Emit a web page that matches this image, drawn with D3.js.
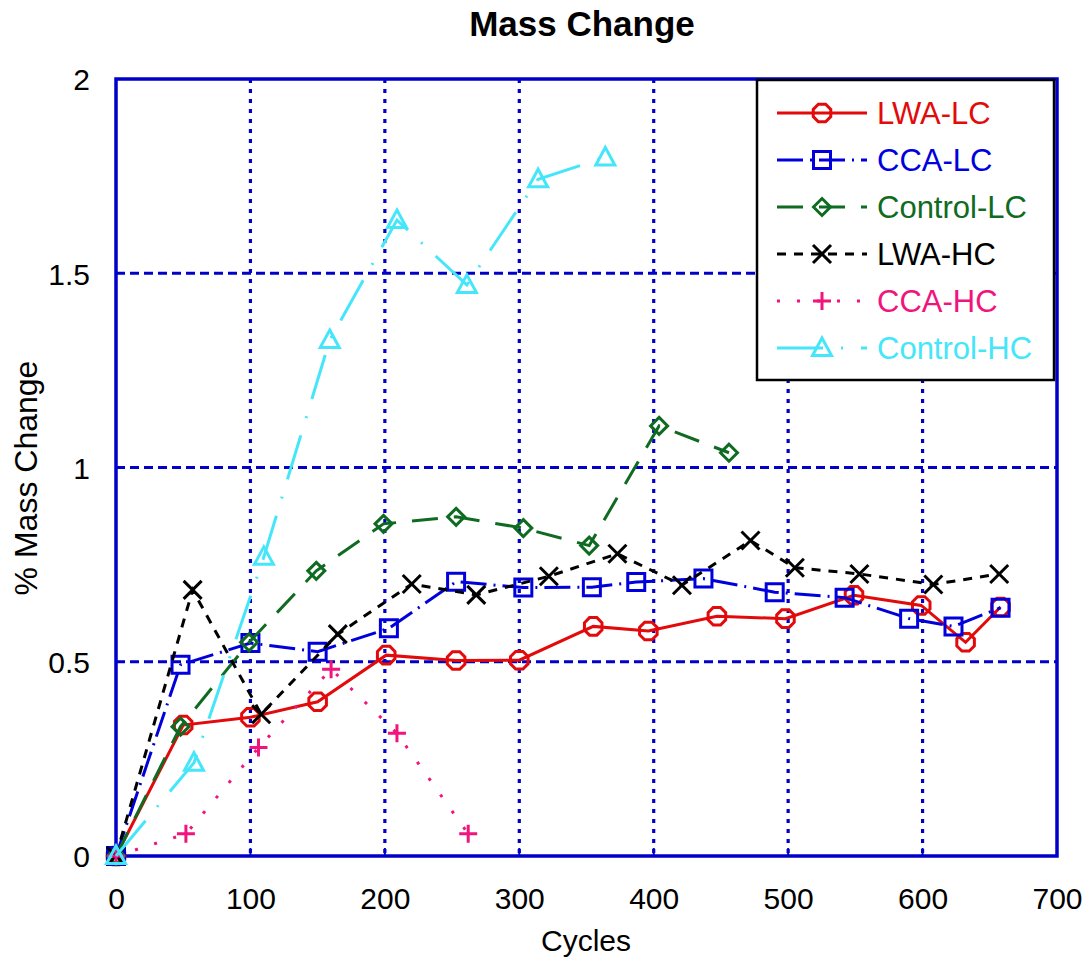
<!DOCTYPE html>
<html>
<head>
<meta charset="utf-8">
<script src="https://cdn.jsdelivr.net/npm/d3@7"></script>
<style>
  body { margin: 0; background: #fff; }
  svg { display: block; font-family: "Liberation Sans", Arial, sans-serif; }
</style>
</head>
<body>
<div id="chart"></div>
<script>
// series values
const seriesNames = ["LWA-LC", "CCA-LC", "Control-LC", "LWA-HC", "CCA-HC", "Control-HC"];

const lwaLcCycles = [0, 50, 100, 150, 201, 253, 300, 355, 396, 447, 498, 549, 599, 632, 658];
const lwaLcValues = [0, 0.337, 0.357, 0.397, 0.517, 0.503, 0.504, 0.591, 0.579, 0.617, 0.611, 0.671, 0.645, 0.55, 0.641];

const ccaLcCycles = [0, 48, 100, 150, 203, 253, 303, 354, 387, 437, 490, 542, 590, 623, 658];
const ccaLcValues = [0, 0.492, 0.548, 0.526, 0.586, 0.706, 0.691, 0.692, 0.705, 0.714, 0.679, 0.665, 0.611, 0.591, 0.639];

const controlLcCycles = [0, 48, 99, 149, 199, 253, 303, 352, 404, 456];
const controlLcValues = [0, 0.333, 0.55, 0.734, 0.855, 0.873, 0.844, 0.799, 1.107, 1.038];

const lwaHcCycles = [0, 57, 108, 165, 220, 268, 322, 373, 421, 472, 505, 553, 608, 657];
const lwaHcValues = [0, 0.685, 0.365, 0.571, 0.70, 0.672, 0.72, 0.778, 0.697, 0.812, 0.742, 0.726, 0.699, 0.726];

const ccaHcCycles = [0, 52, 106, 160, 209, 262];
const ccaHcValues = [0, 0.057, 0.279, 0.481, 0.316, 0.057];

const controlHcCycles = [0, 58, 110, 159, 209, 261, 314, 364];
const controlHcValues = [0, 0.24, 0.77, 1.328, 1.637, 1.47, 1.742, 1.798];

const xTicks = [0, 100, 200, 300, 400, 500, 600, 700];
const yTicks = [0, 0.5, 1, 1.5, 2];

const width = 1082, height = 958;
const plot = { left: 116, right: 1057, top: 79, bottom: 856 };

const x = d3.scaleLinear().domain([0, 700]).range([plot.left, plot.right]);
const y = d3.scaleLinear().domain([0, 2]).range([plot.bottom, plot.top]);

const gridBlue = "#0000c8";

// marker paths, centred on 0,0
const markerPath = {
    octagon: function (r) {
        const pts = d3.range(8).map(i => {
            const a = Math.PI / 8 + i * Math.PI / 4;
            return [r * Math.cos(a), r * Math.sin(a)];
        });
        return "M" + pts.map(p => p.join(",")).join("L") + "Z";
    },
    square: r => `M${-r},${-r}H${r}V${r}H${-r}Z`,
    diamond: r => `M0,${-r}L${r},0L0,${r}L${-r},0Z`,
    cross: r => `M${-r},${-r}L${r},${r}M${-r},${r}L${r},${-r}`,
    plus: r => `M${-r},0H${r}M0,${-r}V${r}`,
    triangle: r => `M0,${-r}L${r * 0.95},${r * 0.75}L${-r * 0.95},${r * 0.75}Z`
};

const series = [
    { name: seriesNames[0], xs: lwaLcCycles, ys: lwaLcValues, color: "#e20a0a", dash: null, marker: "octagon", size: 9.5 },
    { name: seriesNames[1], xs: ccaLcCycles, ys: ccaLcValues, color: "#0000dc", dash: "26,7,2,7", marker: "square", size: 8.5 },
    { name: seriesNames[2], xs: controlLcCycles, ys: controlLcValues, color: "#0f6b22", dash: "26,16", marker: "diamond", size: 8.5 },
    { name: seriesNames[3], xs: lwaHcCycles, ys: lwaHcValues, color: "#000000", dash: "9,8", marker: "cross", size: 9 },
    { name: seriesNames[4], xs: ccaHcCycles, ys: ccaHcValues, color: "#f0147c", dash: "3,17", marker: "plus", size: 9 },
    { name: seriesNames[5], xs: controlHcCycles, ys: controlHcValues, color: "#45e6fa", dash: "46,18,2,18", marker: "triangle", size: 10 }
];

const svg = d3.select("#chart").append("svg")
    .attr("width", width)
    .attr("height", height);

svg.append("rect").attr("width", width).attr("height", height).attr("fill", "#fff");

// grid
const grid = svg.append("g").attr("class", "grid");
grid.selectAll("line.v").data(xTicks.slice(1, -1)).join("line")
    .attr("class", "v")
    .attr("x1", d => x(d)).attr("x2", d => x(d))
    .attr("y1", plot.top).attr("y2", plot.bottom)
    .attr("stroke", gridBlue).attr("stroke-width", 3.2)
    .attr("stroke-dasharray", "4,6");
grid.selectAll("line.h").data(yTicks.slice(1, -1)).join("line")
    .attr("class", "h")
    .attr("x1", plot.left).attr("x2", plot.right)
    .attr("y1", d => y(d)).attr("y2", d => y(d))
    .attr("stroke", gridBlue).attr("stroke-width", 3.2)
    .attr("stroke-dasharray", "9,5");

// frame
svg.append("rect")
    .attr("x", plot.left).attr("y", plot.top)
    .attr("width", plot.right - plot.left).attr("height", plot.bottom - plot.top)
    .attr("fill", "none").attr("stroke", gridBlue).attr("stroke-width", 3.5);

// axes via d3
const xAxis = svg.append("g")
    .attr("transform", `translate(0,${plot.bottom})`)
    .call(d3.axisBottom(x).tickValues(xTicks).tickSize(0).tickPadding(32).tickFormat(d3.format("d")));
const yAxis = svg.append("g")
    .attr("transform", `translate(${plot.left},0)`)
    .call(d3.axisLeft(y).tickValues(yTicks).tickSize(0).tickPadding(26).tickFormat(d => String(d)));
[xAxis, yAxis].forEach(a => {
    a.select(".domain").remove();
    a.selectAll("text")
        .attr("fill", "#000")
        .style("font-size", "30px")
        .style("font-family", "'Liberation Sans', Arial, sans-serif");
});
yAxis.selectAll("text").attr("dy", "0.36em");

// small ticks at bottom
svg.append("g").selectAll("line").data(xTicks).join("line")
    .attr("x1", d => x(d)).attr("x2", d => x(d))
    .attr("y1", plot.bottom).attr("y2", plot.bottom - 8)
    .attr("stroke", gridBlue).attr("stroke-width", 2);

// titles
svg.append("text")
    .attr("x", 582).attr("y", 36)
    .attr("text-anchor", "middle")
    .style("font-size", "35px").style("font-weight", "bold")
    .text("Mass Change");
svg.append("text")
    .attr("x", 586).attr("y", 951)
    .attr("text-anchor", "middle")
    .style("font-size", "30px")
    .text("Cycles");
svg.append("text")
    .attr("transform", "translate(37,478) rotate(-90)")
    .attr("text-anchor", "middle")
    .style("font-size", "32px")
    .text("% Mass Change");

// lines and markers
const line = d3.line().x(d => x(d[0])).y(d => y(d[1]));
const charts = svg.append("g").attr("class", "charts");
series.forEach(s => {
    const pts = s.xs.map((c, i) => [c, s.ys[i]]);
    const g = charts.append("g");
    g.append("path")
        .datum(pts)
        .attr("d", line)
        .attr("fill", "none")
        .attr("stroke", s.color)
        .attr("stroke-width", 3)
        .attr("stroke-dasharray", s.dash);
    g.selectAll("path.mk").data(pts).join("path")
        .attr("class", "mk")
        .attr("transform", d => `translate(${x(d[0])},${y(d[1])})`)
        .attr("d", markerPath[s.marker](s.size))
        .attr("fill", "none")
        .attr("stroke", s.color)
        .attr("stroke-width", 3);
});

// legend
const legend = svg.append("g").attr("class", "legend");
legend.append("rect")
    .attr("x", 757).attr("y", 80).attr("width", 297).attr("height", 300)
    .attr("fill", "#fff").attr("stroke", "#000").attr("stroke-width", 2.5);
series.forEach((s, i) => {
    const cy = 113 + i * 47;
    legend.append("line")
        .attr("x1", 777).attr("x2", 867).attr("y1", cy).attr("y2", cy)
        .attr("stroke", s.color).attr("stroke-width", 3)
        .attr("stroke-dasharray", s.dash);
    legend.append("path")
        .attr("transform", `translate(822,${cy})`)
        .attr("d", markerPath[s.marker](s.size))
        .attr("fill", "none").attr("stroke", s.color).attr("stroke-width", 3);
    legend.append("text")
        .attr("x", 877).attr("y", cy).attr("dy", "0.36em")
        .attr("fill", s.color)
        .style("font-size", "31px")
        .text(s.name);
});
</script>
</body>
</html>
